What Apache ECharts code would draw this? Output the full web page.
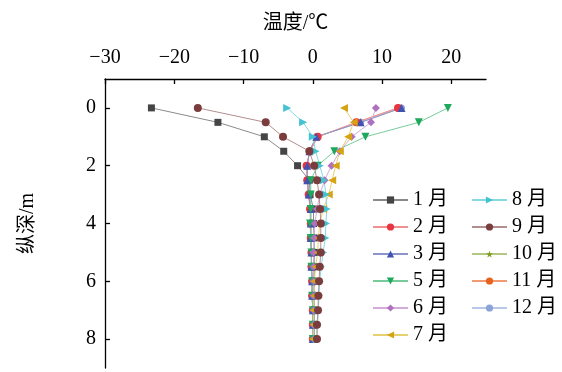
<!DOCTYPE html>
<html><head><meta charset="utf-8">
<script src="https://cdn.jsdelivr.net/npm/echarts@6/dist/echarts.min.js"></script>
<style>html,body{margin:0;padding:0;background:#fff}#c{width:562px;height:372px}</style>
</head><body><div id="c"></div>
<script>
const depths = [0,0.5,1,1.5,2,2.5,3,3.5,4,4.5,5,5.5,6,6.5,7,7.5,8];
const xTicks = [-30,-20,-10,0,10,20];
const yTicks = [0,2,4,6,8];
const names = ['1 月','2 月','3 月','5 月','6 月','7 月','8 月','9 月','10 月','11 月','12 月'];
const m1  = [-23.3,-13.7,-7.0,-4.2,-2.2,-0.5,-0.4,0.1,0.1,0.2,0.2,0.2,0.2,0.2,0.2,0.2,0.2];
const m2  = [12.3,6.3,0.7,-0.4,-0.9,-0.8,-0.6,-0.4,-0.3,-0.3,-0.2,-0.2,-0.1,-0.1,0.0,0.0,0.0];
const m3  = [12.8,6.9,0.5,-0.5,-0.8,-0.8,-0.6,-0.3,-0.3,-0.3,-0.2,-0.2,-0.1,-0.1,0.0,0.0,0.0];
const m5  = [19.5,15.3,7.6,3.1,0.7,-0.3,-0.3,-0.3,-0.4,-0.3,-0.2,-0.2,-0.1,-0.1,0.0,0.0,0.0];
const m6  = [9.1,8.4,5.6,3.9,2.7,1.7,1.0,0.6,0.3,0.2,0.1,0.1,0.1,0.1,0.1,0.1,0.1];
const m7  = [4.5,5.9,5.1,3.9,3.3,2.8,2.3,1.5,1.0,0.8,0.7,0.4,0.2,0.2,0.1,0.1,0.0];
const m8  = [-3.7,-1.4,0.0,0.4,1.0,1.6,1.9,2.0,1.9,1.8,1.5,1.2,1.0,0.9,0.8,0.7,0.6];
const m9  = [-16.6,-6.8,-4.3,-0.5,0.2,0.6,0.9,1.05,1.15,1.15,1.15,1.0,0.9,0.8,0.75,0.6,0.6];
const m10 = [12.8,6.9,0.5,-0.5,-0.8,-0.8,-0.6,-0.3,-0.3,-0.3,-0.2,-0.2,-0.1,-0.1,0.0,0.0,0.0];
const m11 = [12.3,6.3,0.7,-0.4,-0.9,-0.8,-0.6,-0.4,-0.3,-0.3,-0.2,-0.2,-0.1,-0.1,0.0,0.0,0.0];
const m12 = [12.8,6.9,0.5,-0.5,-0.8,-0.8,-0.6,-0.3,-0.3,-0.3,-0.2,-0.2,-0.1,-0.1,0.0,0.0,0.0];

const values = [m1,m2,m3,m5,m6,m7,m8,m9,m10,m11,m12];
const markerColors = ['#454545','#e8353f','#4252b0','#1ea85c','#b070c0','#d4a414','#42c2d2','#7a3c3c','#7f9e22','#e8621e','#8aa4d8'];
const lineColors   = ['#8a8a8a','#f09090','#8c94cc','#78cc9c','#d4acdc','#e6d070','#88d8e2','#b48e8e','#b4c884','#f29a72','#b8c8e8'];
const symbols = ['rect','circle','triangle','triangle','diamond','triangle','triangle','circle','path://M50,0 L61,35 L98,35 L68,57 L79,91 L50,70 L21,91 L32,57 L2,35 L39,35 Z','circle','circle'];
const rotates = [0,0,0,180,0,90,-90,0,0,0,0];
const sizes = [7,8,8,8,8,8,8,8,7,7,7];
const zs = [2,2,2,2,2,2,2,2,1,1,1];

const serif = '"Liberation Serif","Times New Roman","Noto Sans CJK SC",serif';
const series = names.map((n,k)=>({
  name: n, type: 'line',
  data: depths.map((d,i)=>[values[k][i], d]),
  symbol: symbols[k], symbolSize: sizes[k], symbolRotate: rotates[k],
  showAllSymbol: true, z: zs[k],
  itemStyle: {color: markerColors[k]},
  lineStyle: {color: lineColors[k], width: 1},
  emphasis: {disabled: true}, animation: false
}));

const chart = echarts.init(document.getElementById('c'));
chart.setOption({
  animation: false,
  grid: {left: 105, top: 79, right: 76, bottom: 4},
  xAxis: {
    type: 'value', position: 'top', min: -30, max: 25,
    name: '温度/℃', nameLocation: 'middle', nameGap: 45,
    nameTextStyle: {fontFamily: serif, fontSize: 20, color: '#000'},
    axisLine: {onZero: false, lineStyle: {color: '#000', width: 1.3}},
    axisTick: {inside: true, length: 5, customValues: xTicks, lineStyle: {color: '#000', width: 1.3}},
    axisLabel: {customValues: xTicks, margin: 11, fontFamily: serif, fontSize: 20, color: '#000',
      formatter: v => String(v).replace('-', '\u2212')},
    splitLine: {show: false}
  },
  yAxis: {
    type: 'value', inverse: true, min: -1, max: 9,
    name: '纵深/m', nameLocation: 'middle', nameGap: 67, nameRotate: 90,
    nameTextStyle: {fontFamily: serif, fontSize: 20, color: '#000'},
    axisLine: {show: true, onZero: false, lineStyle: {color: '#000', width: 1.3}},
    axisTick: {show: true, inside: true, length: 5, customValues: yTicks, lineStyle: {color: '#000', width: 1.3}},
    axisLabel: {customValues: yTicks, margin: 9, fontFamily: serif, fontSize: 20, color: '#000'},
    splitLine: {show: false}
  },
  legend: [
    {data: names.slice(0,6), orient: 'vertical', left: 367, top: 185, itemWidth: 35, itemHeight: 9, itemGap: 7,
     textStyle: {fontFamily: serif, fontSize: 20, color: '#000'}, selectedMode: false},
    {data: names.slice(6), orient: 'vertical', left: 466, top: 185, itemWidth: 35, itemHeight: 9, itemGap: 7,
     textStyle: {fontFamily: serif, fontSize: 20, color: '#000'}, selectedMode: false}
  ],
  series: series
});
</script></body></html>
